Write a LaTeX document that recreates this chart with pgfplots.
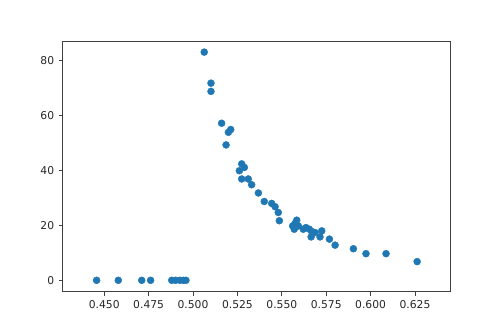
\documentclass[border=0pt]{standalone}
\usepackage{pgfplots}
\pgfplotsset{compat=1.18}
\usepackage{fontspec}
\setmainfont{DejaVu Sans}
\definecolor{mplblue}{HTML}{1F77B4}
\definecolor{spine}{HTML}{404040}
\begin{document}
\begin{tikzpicture}
\begin{axis}[
  scale only axis,
  width=388bp, height=250.7bp,
  xmin=0.4266, xmax=0.6451,
  ymin=-4.15, ymax=87.15,
  xtick={0.45,0.475,0.5,0.525,0.55,0.575,0.6,0.625},
  xticklabels={0.450,0.475,0.500,0.525,0.550,0.575,0.600,0.625},
  ytick={0,20,40,60,80},
  tick align=outside,
  tick pos=left,
  major tick length=4bp,
  axis line style={spine, line width=0.9bp},
  every tick/.style={spine, line width=0.9bp},
  tick label style={font=\fontsize{10.8}{13}\selectfont, text=black!85},
  /pgf/number format/assume math mode=true,
  xticklabel style={yshift=-1bp},
  yticklabel style={xshift=-1bp},
]
\addplot[only marks, mark=*, mark size=3.5bp, mark options={draw=mplblue, fill=mplblue}] coordinates {
(0.4457,0) (0.4579,0) (0.4711,0) (0.4761,0)
(0.4880,0) (0.4902,0) (0.4926,0) (0.4945,0) (0.4960,0)
(0.5063,83.1) (0.5101,71.8) (0.5101,68.8)
(0.5161,57.2) (0.5199,53.9) (0.5212,54.9) (0.5186,49.3)
(0.5274,42.4) (0.5289,41.1) (0.5261,39.9)
(0.5274,36.9) (0.5311,36.9) (0.5330,34.8)
(0.5368,31.8) (0.5401,28.7) (0.5443,28.0) (0.5462,26.8) (0.5480,24.7) (0.5486,21.7)
(0.5584,21.9) (0.5574,20.7) (0.5561,19.8) (0.5570,18.6) (0.5593,19.8)
(0.5621,18.6) (0.5636,19.2) (0.5655,18.6) (0.5668,17.8) (0.5687,17.4)
(0.5665,15.8) (0.5725,18.0) (0.5715,15.8) (0.5768,15.0) (0.5800,12.8)
(0.5903,11.5) (0.5974,9.7) (0.6087,9.7) (0.6262,6.8)
};
\end{axis}
\path (current axis.south west) ++(-62.7bp,-41.3bp) rectangle ++(500bp,333bp);
\end{tikzpicture}
\end{document}
